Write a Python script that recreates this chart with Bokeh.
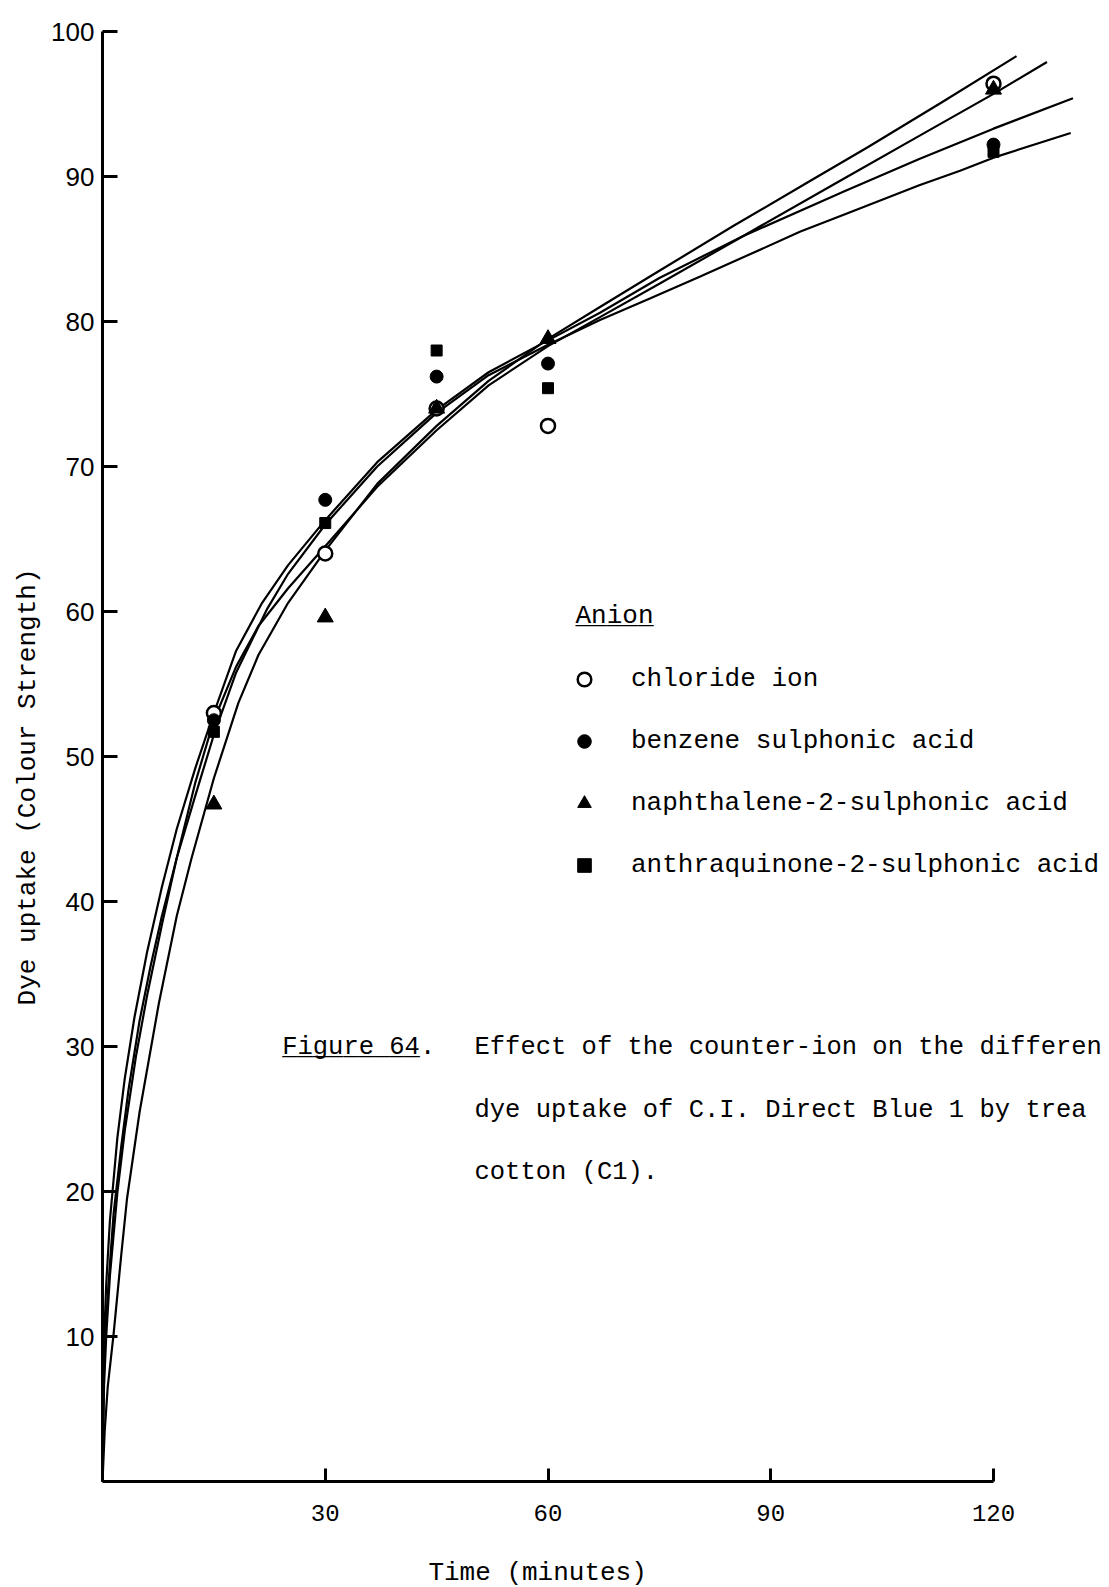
import math
from bokeh.plotting import figure
from bokeh.models import Range1d, Label, Legend, LegendItem, FixedTicker
from bokeh.embed import file_html
from bokeh.resources import INLINE

# ---------------- data ----------------
time_points = [15, 30, 45, 60, 120]
chloride = [53.0, 64.0, 74.0, 72.8, 96.4]
benzene = [52.5, 67.7, 76.2, 77.1, 92.2]
naphthalene = [46.7, 59.6, 74.0, 78.8, 96.0]
anthraquinone = [51.7, 66.1, 78.0, 75.4, 91.7]

# drawn (fitted) curves
curve_naph_t = [0, 0.3, 0.7, 1.5, 2.5, 3.3, 5, 7.6, 10, 12, 15, 18.3, 21, 25, 30, 37, 45, 52, 60, 67, 75, 85, 95, 103, 113, 123.1]
curve_naph_v = [0, 3.5, 6.5, 10.2, 15.5, 19.5, 25.5, 33.0, 39.0, 43.0, 48.5, 53.7, 57.0, 60.6, 64.2, 68.8, 72.8, 75.9, 78.8, 81.0, 83.5, 86.6, 89.6, 92.0, 95.1, 98.3]

curve_cl_t = [0, 0.2, 0.5, 1, 2, 3, 4.5, 6, 8, 10, 12.5, 15, 18, 21, 25, 30, 37, 45, 52, 60, 67, 75, 86.3, 100, 110, 120, 127.2]
curve_cl_v = [0, 6.5, 10, 14.2, 19.9, 24.2, 29.3, 33.5, 38.4, 43.0, 48.2, 52.5, 56.2, 59.0, 61.6, 64.5, 68.6, 72.5, 75.6, 78.3, 80.3, 82.6, 85.9, 89.9, 92.8, 95.7, 97.9]

curve_bz_t = [0, 0.1, 0.25, 0.5, 1, 2, 3, 4.3, 6, 8, 10, 12.5, 15, 18, 21.5, 25, 30, 37, 45, 52, 60, 67, 75, 86.3, 100, 110, 120, 130.7]
curve_bz_v = [0, 7.2, 10.2, 13.6, 18, 23.7, 27.8, 32.0, 36.5, 41.0, 45.0, 49.2, 53.0, 57.3, 60.6, 63.2, 66.3, 70.3, 73.9, 76.5, 78.7, 80.6, 83.0, 85.9, 89.0, 91.2, 93.3, 95.4]

curve_aq_t = [0, 0.15, 0.4, 0.8, 1.5, 2.5, 3.5, 5, 6.5, 8, 10, 12.5, 15, 18, 22.2, 25, 30, 37, 45, 52, 60, 67, 73.8, 80.5, 94, 100, 110, 115.5, 120, 130.4]
curve_aq_v = [0, 7, 10.2, 13.6, 18.5, 23, 27, 31.8, 35.6, 39, 43, 47.3, 51.5, 55.8, 60.2, 62.6, 66.0, 70.0, 73.7, 76.3, 78.4, 80.1, 81.6, 83.1, 86.2, 87.4, 89.4, 90.4, 91.3, 93.0]

x_ticks = [30, 60, 90, 120]
y_ticks = [10, 20, 30, 40, 50, 60, 70, 80, 90, 100]
series_labels = ["chloride ion", "benzene sulphonic acid",
                 "naphthalene-2-sulphonic acid", "anthraquinone-2-sulphonic acid"]

# ---------------- figure ----------------
W, H = 1109, 1587
X0_PX, Y100_PX, Y0_PX = 102, 31, 1481
PX_PER_MIN = 7.425
PX_PER_UNIT = (Y0_PX - Y100_PX) / 100.0

x_start = -X0_PX / PX_PER_MIN
x_end = (W - X0_PX) / PX_PER_MIN
y_end = 100 + Y100_PX / PX_PER_UNIT
y_start = -(H - Y0_PX) / PX_PER_UNIT

p = figure(width=W, height=H, output_backend="svg", toolbar_location=None,
           x_range=Range1d(x_start, x_end), y_range=Range1d(y_start, y_end),
           min_border_left=0, min_border_right=0, min_border_top=0,
           min_border_bottom=0)
p.outline_line_color = None
p.xgrid.visible = False
p.ygrid.visible = False
p.background_fill_color = "white"
p.border_fill_color = "white"

for ax in (p.xaxis[0], p.yaxis[0]):
    ax.fixed_location = 0
    ax.axis_line_width = 3
    ax.axis_line_color = "black"
    ax.major_tick_line_width = 3
    ax.major_tick_line_color = "black"
    ax.major_tick_out = 0
    ax.minor_tick_line_color = None
    ax.major_label_text_color = "black"

p.xaxis.bounds = (0, 120)
p.xaxis.ticker = FixedTicker(ticks=x_ticks)
p.xaxis.major_tick_in = 13
p.xaxis.major_label_text_font = "Liberation Mono"
p.xaxis.major_label_text_font_size = "24px"
p.xaxis.major_label_standoff = 23

p.yaxis.bounds = (0, 100)
p.yaxis.ticker = FixedTicker(ticks=y_ticks)
p.yaxis.major_tick_in = 15
p.yaxis.major_label_text_font = "Liberation Sans"
p.yaxis.major_label_text_font_size = "26px"
p.yaxis.major_label_standoff = 8

# curves
for tt, vv in [(curve_naph_t, curve_naph_v), (curve_cl_t, curve_cl_v),
               (curve_bz_t, curve_bz_v), (curve_aq_t, curve_aq_v)]:
    p.line(tt, vv, line_color="black", line_width=2.2)

# points
r_cl = p.scatter(time_points, chloride, marker="circle", size=14,
                 fill_color="white", line_color="black", line_width=2.5)
r_bz = p.scatter(time_points, benzene, marker="circle", size=13,
                 fill_color="black", line_color="black")
r_nf = p.scatter(time_points, naphthalene, marker="triangle", size=16,
                 fill_color="black", line_color="black")
r_aq = p.scatter(time_points, anthraquinone, marker="square", size=11,
                 fill_color="black", line_color="black")

GW = 34
legend = Legend(items=[LegendItem(label=series_labels[0], renderers=[r_cl]),
                       LegendItem(label=series_labels[1], renderers=[r_bz]),
                       LegendItem(label=series_labels[2], renderers=[r_nf]),
                       LegendItem(label=series_labels[3], renderers=[r_aq])],
                location=(567, 705), orientation="vertical",
                glyph_width=GW, glyph_height=GW, label_height=GW,
                spacing=28, label_standoff=30, padding=0, margin=0,
                border_line_color=None, background_fill_alpha=0,
                label_text_font="Liberation Mono", label_text_font_size="26px",
                label_text_color="black")
p.add_layout(legend)

MONO = "Liberation Mono"

def lab(x, y, text, align="left", angle=0.0, size="26px"):
    p.add_layout(Label(x=x, y=y, text=text, text_font=MONO, text_font_size=size,
                       text_align=align, text_baseline="middle", angle=angle,
                       text_color="black"))

lab(63.7, 59.7, "Anion")
lab(63.7, 59.7, "_____")
lab(24.2, 29.9, "Figure 64.", size="25.5px")
lab(24.2, 29.9, "_________", size="25.5px")
lab(50.1, 29.9, "Effect of the counter-ion on the differen", size="25.5px")
lab(50.1, 25.6, "dye uptake of C.I. Direct Blue 1 by trea", size="25.5px")
lab(50.1, 21.3, "cotton (C1).", size="25.5px")
lab(-10.1, 47.9, "Dye uptake (Colour Strength)", align="center", angle=math.pi / 2)
lab(58.6, -6.3, "Time (minutes)", align="center")

open("out.html", "w").write(file_html(p, INLINE))
